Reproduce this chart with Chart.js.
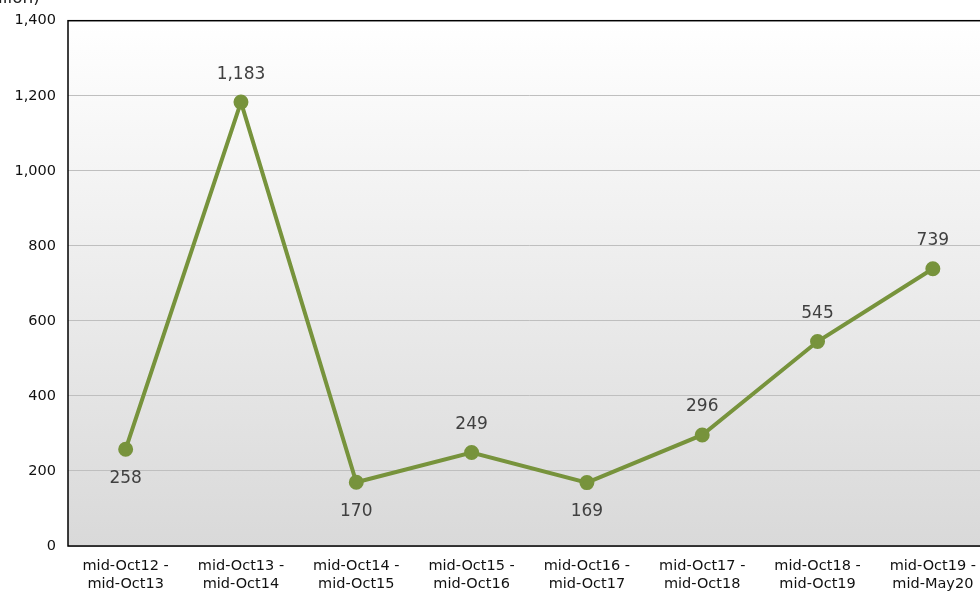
<!DOCTYPE html>
<html>
<head>
<meta charset="utf-8">
<script src="https://cdn.jsdelivr.net/npm/chart.js@4"></script>
<style>
    html, body { margin: 0; padding: 0; background: #fff; }
    body { width: 980px; height: 592px; overflow: hidden; position: relative; }
    #wrap { position: absolute; left: 0; top: 0; width: 1000px; height: 592px; }
    #unit { position: absolute; right: 940px; top: -13px; font: 17px "DejaVu Sans", Verdana, sans-serif; color: #222; white-space: nowrap; }
</style>
</head>
<body>
<div id="wrap"><canvas id="chart" width="1000" height="592"></canvas></div>
<div id="unit">(million)</div>
<script>
// Chart data
const categories = [
    ['mid-Oct12 -', 'mid-Oct13'],
    ['mid-Oct13 -', 'mid-Oct14'],
    ['mid-Oct14 -', 'mid-Oct15'],
    ['mid-Oct15 -', 'mid-Oct16'],
    ['mid-Oct16 -', 'mid-Oct17'],
    ['mid-Oct17 -', 'mid-Oct18'],
    ['mid-Oct18 -', 'mid-Oct19'],
    ['mid-Oct19 -', 'mid-May20']
];
const values = [258, 1183, 170, 249, 169, 296, 545, 739];
// labels drawn below the point instead of above
const labelBelow = [true, false, true, false, true, false, false, false];
const yTicks = [0, 200, 400, 600, 800, 1000, 1200, 1400];

const FONT = '"DejaVu Sans", Verdana, sans-serif';
const GREEN = '#77933c';

// Plot area background gradient + frame
const plotBackground = {
    id: 'plotBackground',
    beforeDraw(chart) {
        const { ctx, chartArea: a } = chart;
        const g = ctx.createLinearGradient(0, a.top, 0, a.bottom);
        g.addColorStop(0, '#ffffff');
        g.addColorStop(1, '#d9d9d9');
        ctx.save();
        ctx.fillStyle = g;
        ctx.fillRect(a.left, a.top, a.right - a.left, a.bottom - a.top);
        ctx.restore();
    },
    afterDraw(chart) {
        const { ctx, chartArea: a } = chart;
        ctx.save();
        ctx.strokeStyle = '#000';
        ctx.lineWidth = 1.5;
        ctx.strokeRect(a.left, a.top, a.right - a.left, a.bottom - a.top);
        ctx.restore();
    }
};

// Value labels next to each point
const valueLabels = {
    id: 'valueLabels',
    afterDatasetsDraw(chart) {
        const { ctx } = chart;
        const meta = chart.getDatasetMeta(0);
        ctx.save();
        ctx.font = '17px ' + FONT;
        ctx.fillStyle = '#404040';
        ctx.textAlign = 'center';
        ctx.textBaseline = 'middle';
        meta.data.forEach((pt, i) => {
            const dy = labelBelow[i] ? 29 : -28;
            ctx.fillText(values[i].toLocaleString('en-US'), pt.x, pt.y + dy);
        });
        ctx.restore();
    }
};

new Chart(document.getElementById('chart'), {
    type: 'line',
    data: {
        labels: categories,
        datasets: [{
            data: values,
            borderColor: GREEN,
            backgroundColor: GREEN,
            borderWidth: 4,
            pointRadius: 5.5,
            pointBackgroundColor: GREEN,
            pointBorderColor: GREEN,
            tension: 0,
            fill: false
        }]
    },
    options: {
        responsive: false,
        animation: false,
        layout: { padding: { top: 20, right: 7, left: 0, bottom: 0 } },
        plugins: {
            legend: { display: false },
            tooltip: { enabled: false }
        },
        scales: {
            x: {
                offset: true,
                grid: { display: false, drawTicks: false },
                border: { display: false },
                ticks: {
                    color: '#111',
                    font: { family: FONT, size: 14.5 },
                    padding: 12,
                    maxRotation: 0,
                    autoSkip: false
                },
                afterFit(scale) { scale.height = 46; }
            },
            y: {
                min: 0,
                max: 1400,
                afterBuildTicks(scale) {
                    scale.ticks = yTicks.map(v => ({ value: v }));
                },
                grid: { color: '#bfbfbf', lineWidth: 1, drawTicks: false },
                border: { display: false },
                ticks: {
                    color: '#111',
                    font: { family: FONT, size: 14.5 },
                    padding: 12,
                    callback: v => v.toLocaleString('en-US')
                },
                afterFit(scale) { scale.width = 68; }
            }
        }
    },
    plugins: [plotBackground, valueLabels]
});
</script>
</body>
</html>
